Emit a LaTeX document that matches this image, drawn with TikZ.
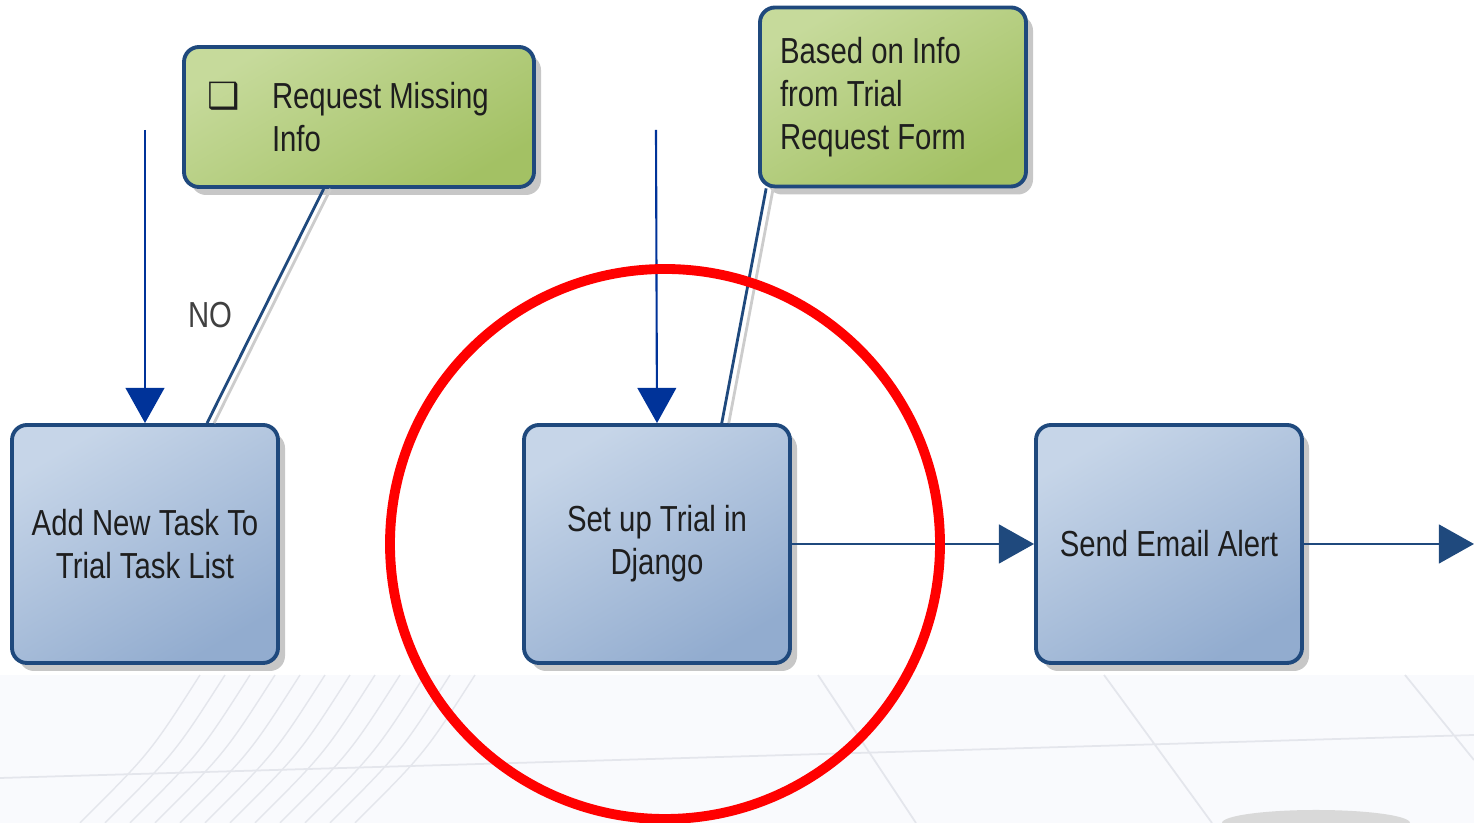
\documentclass[tikz,border=0pt]{standalone}
\usepackage{fontspec}
\setmainfont{Liberation Sans}[FakeStretch=0.81]
\newfontfamily\symfont{DejaVu Sans}
\usetikzlibrary{arrows.meta,shadows,calc}
\definecolor{boxline}{RGB}{31,73,125}
\definecolor{flowblue}{RGB}{0,51,153}
\definecolor{taskhi}{RGB}{198,213,232}
\definecolor{tasklo}{RGB}{146,172,207}
\definecolor{notehi}{RGB}{198,218,155}
\definecolor{notelo}{RGB}{163,193,100}
\definecolor{backfill}{RGB}{249,250,253}
\definecolor{backline}{RGB}{228,230,236}
\definecolor{inktext}{RGB}{30,30,30}
\begin{document}
\begin{tikzpicture}[font=\fontsize{10.3}{12.2}\selectfont, line join=round, >={Triangle[length=10pt,width=11pt]},
  task/.style={draw=boxline, line width=1.1pt, rounded corners=0.15cm, minimum width=2.66cm, minimum height=2.38cm,
    top color=taskhi, bottom color=tasklo, shading angle=30, text=inktext, align=center,
    drop shadow={shadow xshift=0.07cm, shadow yshift=-0.08cm, fill=black!22, opacity=1}},
  note/.style={task, top color=notehi, bottom color=notelo, shading angle=30, align=flush left},
  flow/.style={flowblue, line width=0.6pt, ->},
  link/.style={boxline, line width=0.8pt}]
\useasboundingbox (0,0) rectangle (14.74,8.23);
% background
\fill[backfill] (0,0) rectangle (14.74,1.48);
\draw[backline, line width=0.5pt] (8.18,1.48) -- (9.16,0) (11.04,1.48) -- (12.12,0) (14.05,1.48) -- (14.74,0.63)
  (0,0.45) -- (14.74,0.88);
\foreach \s in {0,0.25,...,2.75}
  \draw[backline, line width=0.4pt] (2.0+\s,1.48) .. controls (1.5+\s,0.7) .. (0.8+\s,0);
\fill[black!15] (12.22,0) arc (180:0:0.94 and 0.13);
% nodes
\node[task] (add) at (1.45,2.79) {Add New Task To\\Trial Task List};
\node[task] (setup) at (6.57,2.79) {Set up Trial in\\Django};
\node[task] (email) at (11.69,2.79) {Send Email Alert};
\node[note, minimum width=3.5cm, minimum height=1.4cm, text width=3.04cm, inner xsep=0.23cm] (req) at (3.59,7.06)
  {\makebox[0.65cm][l]{\symfont ❑}Request Missing\\\hspace*{0.65cm}Info};
\node[note, minimum height=1.79cm, text width=2.26cm, inner xsep=0.2cm] (info) at (8.93,7.26)
  {Based on Info\\from Trial\\Request Form};
\node[text=inktext!85] (no) at (2.10,5.08) {NO};
\coordinate (inA) at (1.45,6.93);
\coordinate (inB) at (6.56,6.93);
\coordinate (out) at (14.74,2.79);
% connectors
\draw[flow] (inA) -- (add.north);
\draw[flow] (inB) -- (setup.north);
\draw[black!20, line width=0.8pt] ([xshift=0.07cm]$(req.south west)!0.4!(req.south east)$) -- ([xshift=0.07cm]$(add.north west)!0.73!(add.north east)$);
\draw[link] ($(req.south west)!0.4!(req.south east)$) -- ($(add.north west)!0.73!(add.north east)$);
\draw[black!20, line width=0.8pt] ([xshift=0.07cm]$(info.south west)!0.03!(info.south east)$) -- ([xshift=0.07cm]$(setup.north west)!0.74!(setup.north east)$);
\draw[link] ($(info.south west)!0.03!(info.south east)$) -- ($(setup.north west)!0.74!(setup.north east)$);
\draw[link, ->] (setup.east) -- (email.west);
\draw[link, ->] (email.east) -- (out);
% highlight
\draw[red, line width=2.8pt] ([xshift=0.08cm]setup.center) circle (2.75);
\end{tikzpicture}
\end{document}
